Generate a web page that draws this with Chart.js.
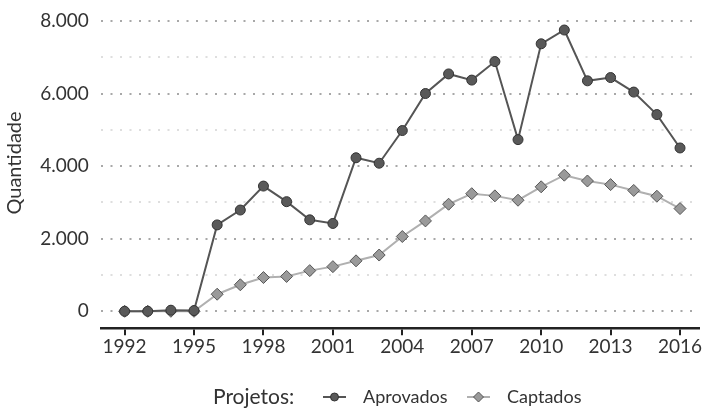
<!DOCTYPE html>
<html>
<head>
<meta charset="utf-8">
<script src="https://cdn.jsdelivr.net/npm/chart.js@4"></script>
<style>
  html, body { margin: 0; padding: 0; background: #fff; }
  #wrap { width: 706px; height: 408px; }
</style>
</head>
<body>
<div id="wrap"><canvas id="chart" width="706" height="408"></canvas></div>
<script>
// data
const years = [1992, 1993, 1994, 1995, 1996, 1997, 1998, 1999, 2000, 2001, 2002, 2003, 2004,
  2005, 2006, 2007, 2008, 2009, 2010, 2011, 2012, 2013, 2014, 2015, 2016];
const aprovados = [0, 0, 30, 20, 2380, 2790, 3450, 3020, 2520, 2420, 4230, 4080, 4980,
  6000, 6540, 6370, 6880, 4730, 7370, 7750, 6350, 6440, 6040, 5420, 4500];
const captados = [0, 0, 0, 0, 470, 730, 930, 960, 1120, 1230, 1390, 1550, 2060,
  2490, 2950, 3240, 3180, 3060, 3430, 3750, 3590, 3490, 3330, 3170, 2830];
const xTicks = [1992, 1995, 1998, 2001, 2004, 2007, 2010, 2013, 2016];
const yTicks = [0, 1000, 2000, 3000, 4000, 5000, 6000, 7000, 8000];

const FONT = 'Lato, "Open Sans", sans-serif';
const TEXT = '#333';

function fmt(v) {
  return v.toLocaleString('de-DE');
}

// legend drawn inline: "Projetos:  -o- Aprovados  -<>- Captados", plus the y title
const inlineLegend = {
  id: 'inlineLegend',
  afterDraw(chart) {
    const ctx = chart.ctx;
    const y = 397;
    ctx.save();
    ctx.fillStyle = TEXT;
    ctx.textBaseline = 'middle';
    ctx.textAlign = 'center';
    ctx.font = '20px ' + FONT;
    ctx.save();
    ctx.translate(15, 163);
    ctx.rotate(-Math.PI / 2);
    ctx.fillText('Quantidade', 0, 0);
    ctx.restore();

    ctx.textAlign = 'left';
    ctx.font = '21px ' + FONT;
    ctx.fillText('Projetos:', 213, y);
    ctx.font = '18px ' + FONT;
    const items = [
      { x: 323, ds: chart.data.datasets[0] },
      { x: 467, ds: chart.data.datasets[1] }
    ];
    items.forEach(it => {
      ctx.strokeStyle = it.ds.borderColor;
      ctx.lineWidth = 2;
      ctx.beginPath();
      ctx.moveTo(it.x, y);
      ctx.lineTo(it.x + 23, y);
      ctx.stroke();
      ctx.fillStyle = it.ds.pointBackgroundColor;
      ctx.strokeStyle = it.ds.pointBorderColor;
      ctx.lineWidth = 1;
      ctx.beginPath();
      if (it.ds.pointStyle === 'circle') {
        ctx.arc(it.x + 11.5, y, 4, 0, Math.PI * 2);
      } else {
        const cx = it.x + 11.5, r = 5;
        ctx.moveTo(cx, y - r); ctx.lineTo(cx + r, y); ctx.lineTo(cx, y + r); ctx.lineTo(cx - r, y);
        ctx.closePath();
      }
      ctx.fill();
      ctx.stroke();
      ctx.fillStyle = TEXT;
      ctx.fillText(it.ds.label, it.x + 40, y);
    });
    ctx.restore();
  }
};

new Chart(document.getElementById('chart'), {
  type: 'line',
  data: {
    datasets: [
      {
        label: 'Aprovados',
        data: years.map((y, i) => ({ x: y, y: aprovados[i] })),
        borderColor: '#555',
        borderWidth: 2,
        pointStyle: 'circle',
        pointRadius: 5,
        pointBackgroundColor: '#595959',
        pointBorderColor: '#333',
        pointBorderWidth: 1
      },
      {
        label: 'Captados',
        data: years.map((y, i) => ({ x: y, y: captados[i] })),
        borderColor: '#b0b0b0',
        borderWidth: 2,
        pointStyle: 'rectRot',
        pointRadius: 6,
        pointBackgroundColor: '#9a9a9a',
        pointBorderColor: '#555',
        pointBorderWidth: 1
      }
    ]
  },
  options: {
    responsive: false,
    animation: false,
    layout: { padding: { left: 3, right: 0, top: 0, bottom: 50 } },
    plugins: {
      legend: { display: false },
      tooltip: { enabled: false }
    },
    scales: {
      x: {
        type: 'linear',
        min: 1990.97,
        max: 2016.82,
        afterBuildTicks: s => { s.ticks = xTicks.map(v => ({ value: v })); },
        grid: {
          drawOnChartArea: false,
          drawTicks: true,
          tickLength: 7,
          color: '#222',
          lineWidth: 2
        },
        border: { display: true, color: '#222', width: 2.5 },
        ticks: {
          color: TEXT,
          font: { family: FONT, size: 19 },
          padding: 0,
          maxRotation: 0,
          callback: v => String(v)
        }
      },
      y: {
        min: -466,
        max: 8384,
        afterBuildTicks: s => { s.ticks = yTicks.map(v => ({ value: v })); },
        afterFit: s => { s.paddingTop = 0; s.paddingBottom = 0; },
        border: { display: false, dash: [2, 7.5] },
        grid: {
          drawTicks: false,
          color: ctx => (ctx.tick && ctx.tick.value % 2000 === 0) ? '#a8a8a8' : '#dedede',
          lineWidth: 2
        },
        ticks: {
          color: TEXT,
          font: { family: FONT, size: 19 },
          padding: 12,
          callback: v => (v % 2000 === 0 ? fmt(v) : '')
        },
        title: {
          display: true,
          text: 'Quantidade',
          color: 'rgba(0,0,0,0)',
          font: { family: FONT, size: 21 },
          padding: { top: 0, bottom: 0 }
        }
      }
    }
  },
  plugins: [inlineLegend]
});
</script>
</body>
</html>
